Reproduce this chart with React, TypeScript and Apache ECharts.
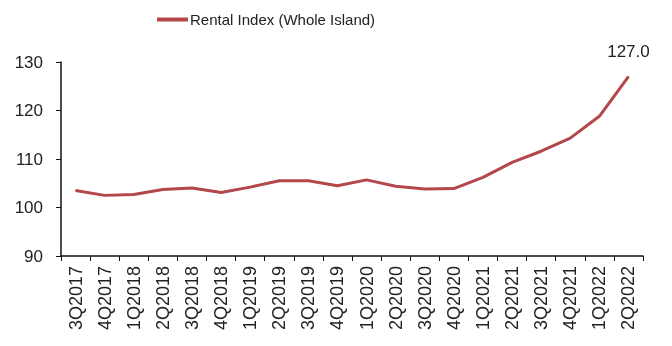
import React, { useEffect, useRef } from "react";
import * as echarts from "echarts";

const categories = [
  "3Q2017", "4Q2017", "1Q2018", "2Q2018", "3Q2018", "4Q2018",
  "1Q2019", "2Q2019", "3Q2019", "4Q2019", "1Q2020", "2Q2020",
  "3Q2020", "4Q2020", "1Q2021", "2Q2021", "3Q2021", "4Q2021",
  "1Q2022", "2Q2022",
];
const rentalIndex = [
  103.5, 102.5, 102.7, 103.7, 104.0, 103.1, 104.2, 105.5, 105.5, 104.5,
  105.7, 104.4, 103.8, 103.9, 106.2, 109.3, 111.6, 114.3, 118.8, 127.0,
];
const seriesName = "Rental Index (Whole Island)";

export default function App() {
  const ref = useRef<HTMLDivElement>(null);
  useEffect(() => {
    if (!ref.current) return;
    const chart = echarts.init(ref.current, null, { renderer: "svg" });
    const font = "Liberation Sans, Arial, sans-serif";
    const last = rentalIndex.length - 1;
    chart.setOption({
      animation: false,
      legend: {
        top: 7,
        left: 152,
        itemWidth: 31,
        itemHeight: 4,
        itemGap: 4,
        icon: "rect",
        textStyle: { fontFamily: font, fontSize: 15, color: "#222", padding: [0, 0, 0, -3] },
        data: [seriesName],
      },
      grid: { left: 61, right: 29, top: 62, bottom: 90 },
      xAxis: {
        type: "category",
        data: categories,
        boundaryGap: true,
        axisLine: { lineStyle: { color: "#111", width: 1.5 } },
        axisTick: { show: true, length: 5, lineStyle: { color: "#111" } },
        axisLabel: {
          rotate: 90,
          interval: 0,
          margin: 10,
          fontFamily: font,
          fontSize: 18,
          color: "#222",
        },
      },
      yAxis: {
        type: "value",
        min: 90,
        max: 130,
        interval: 10,
        splitLine: { show: false },
        axisLine: { show: true, lineStyle: { color: "#111", width: 1.5 } },
        axisTick: { show: true, length: 5, lineStyle: { color: "#111" } },
        axisLabel: { fontFamily: font, fontSize: 17, color: "#222", margin: 18 },
      },
      series: [
        {
          name: seriesName,
          type: "line",
          data: rentalIndex.map((v, i) =>
            i === last
              ? {
                  value: v,
                  label: {
                    show: true,
                    position: "top",
                    distance: 16,
                    fontFamily: font,
                    fontSize: 17,
                    color: "#222",
                    formatter: (p: any) => Number(p.value).toFixed(1),
                  },
                }
              : v
          ),
          symbol: "circle",
          symbolSize: 1,
          showSymbol: true,
          color: "#B3474B",
          itemStyle: { color: "#B3474B" },
          lineStyle: { width: 3, color: "#B3474B" },
        },
      ],
    });
    return () => chart.dispose();
  }, []);
  return (
    <div
      ref={ref}
      style={{ position: "fixed", left: 0, top: 0, width: 672, height: 346 }}
    />
  );
}
